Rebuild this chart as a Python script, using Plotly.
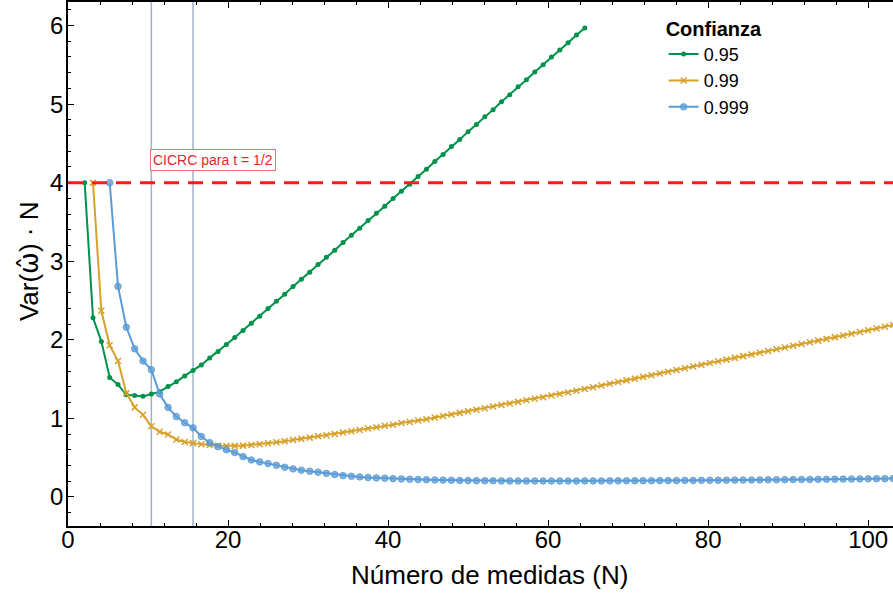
import plotly.graph_objects as go

# Marker index k of each series; plotted position is k * N_SCALE
N_SCALE = 25 / 24

k_095 = list(range(2, 63))
v_095 = [4.0, 2.28, 1.98, 1.52, 1.43, 1.30, 1.29, 1.28, 1.31, 1.34, 1.405, 1.465, 1.54, 1.61, 1.68,
         1.77, 1.85, 1.94, 2.03, 2.12, 2.21, 2.30, 2.40, 2.49, 2.58, 2.68, 2.77, 2.86, 2.96, 3.05,
         3.14, 3.24, 3.33, 3.42, 3.52, 3.61, 3.70, 3.80, 3.89, 3.98, 4.08, 4.17, 4.27, 4.36, 4.46,
         4.55, 4.65, 4.74, 4.84, 4.93, 5.03, 5.12, 5.22, 5.31, 5.41, 5.50, 5.60, 5.69, 5.78, 5.88, 5.97]

k_099 = list(range(3, 101))
v_099 = [4.0, 2.37, 1.93, 1.73, 1.32, 1.14, 1.045, 0.90, 0.83, 0.795, 0.73, 0.70, 0.685, 0.67,
         0.662, 0.653, 0.648, 0.65, 0.653, 0.662, 0.67, 0.684, 0.697, 0.71, 0.726, 0.739, 0.755,
         0.773, 0.786, 0.80, 0.82, 0.837, 0.853, 0.87, 0.888, 0.905, 0.92, 0.94, 0.955, 0.972,
         0.99, 1.01, 1.03, 1.05, 1.07, 1.09, 1.11, 1.13, 1.15, 1.17, 1.19, 1.21, 1.23, 1.25, 1.27,
         1.29, 1.31, 1.33, 1.352, 1.374, 1.396, 1.418, 1.44, 1.462, 1.484, 1.506, 1.528, 1.55,
         1.572, 1.594, 1.616, 1.638, 1.66, 1.682, 1.704, 1.726, 1.748, 1.77, 1.792, 1.814, 1.836,
         1.858, 1.88, 1.902, 1.924, 1.946, 1.968, 1.99, 2.012, 2.034, 2.056, 2.078, 2.10, 2.122,
         2.144, 2.166, 2.188, 2.21]

k_0999 = list(range(5, 101))
v_0999 = [4.0, 2.68, 2.16, 1.885, 1.73, 1.62, 1.31, 1.14, 1.023, 0.945, 0.88, 0.77, 0.69, 0.64,
          0.60, 0.565, 0.513, 0.47, 0.446, 0.425, 0.403, 0.378, 0.357, 0.34, 0.327, 0.315, 0.30,
          0.284, 0.271, 0.263, 0.255, 0.247, 0.242, 0.238, 0.233, 0.229, 0.225, 0.222, 0.219,
          0.216, 0.214, 0.212, 0.21, 0.208, 0.207, 0.206, 0.205, 0.204, 0.204, 0.203, 0.203,
          0.203, 0.203, 0.203, 0.203, 0.203, 0.203, 0.204, 0.204, 0.204, 0.205, 0.205, 0.206,
          0.206, 0.207, 0.207, 0.208, 0.208, 0.209, 0.21, 0.21, 0.211, 0.212, 0.213, 0.213, 0.214,
          0.215, 0.216, 0.217, 0.218, 0.219, 0.22, 0.221, 0.222, 0.223, 0.224, 0.225, 0.226,
          0.227, 0.228, 0.229, 0.23, 0.232, 0.233, 0.234, 0.235]

bound_value = 4.0
vlines_k = [10, 15]
annot_text = "CICRC para t = 1/2"
legend_title = "Confianza"
x_title = "Número de medidas (N)"
y_title = 'Var(<span style="font-family:DejaVu Sans">ω̂</span>) · N'

C_GREEN = "#00924a"
C_ORANGE = "#d7a12a"
C_BLUE = "#5b9bd5"
FONT = "Liberation Sans, Arial, sans-serif"

fig = go.Figure()

fig.add_trace(go.Scatter(
    x=[k * N_SCALE for k in k_095], y=v_095, name="0.95", mode="lines+markers",
    line=dict(color=C_GREEN, width=2),
    marker=dict(symbol="circle", size=5, color=C_GREEN)))
fig.add_trace(go.Scatter(
    x=[k * N_SCALE for k in k_099], y=v_099, name="0.99", mode="lines+markers",
    line=dict(color=C_ORANGE, width=2),
    marker=dict(symbol="x-thin", size=6, color=C_ORANGE, line=dict(color=C_ORANGE, width=1.5))))
fig.add_trace(go.Scatter(
    x=[k * N_SCALE for k in k_0999], y=v_0999, name="0.999", mode="lines+markers",
    line=dict(color=C_BLUE, width=2),
    marker=dict(symbol="circle", size=6.5, color="rgba(91,155,213,0.75)",
                line=dict(color="rgba(91,155,213,0.9)", width=1))))

fig.add_hline(y=bound_value, line=dict(color="#ff1a1a", width=3, dash="15px,9px"), layer="above")
for k in vlines_k:
    fig.add_vline(x=k * N_SCALE, line=dict(color="#9fb2ca", width=1.5), layer="below")

fig.add_annotation(x=18.1, y=4.29, xref="x", yref="y", text=annot_text, showarrow=False,
                   font=dict(family=FONT, size=14, color="#e8262b"),
                   bgcolor="white", bordercolor="#f07070", borderwidth=1, borderpad=2)

# axis titles as annotations for precise placement
fig.add_annotation(x=0.5115, y=-0.093, xref="paper", yref="paper", text=x_title,
                   showarrow=False, xanchor="center", yanchor="middle",
                   font=dict(family=FONT, size=26, color="black"))
fig.add_annotation(x=-0.047, y=0.506, xref="paper", yref="paper", text=y_title,
                   showarrow=False, textangle=-90, xanchor="center", yanchor="middle",
                   font=dict(family=FONT, size=26, color="black"))

fig.update_layout(
    width=893, height=594,
    margin=dict(l=68, r=0, t=2, b=68),
    paper_bgcolor="white", plot_bgcolor="white",
    font=dict(family=FONT, color="black"),
    showlegend=True,
    legend=dict(x=0.722, y=0.985, xanchor="left", yanchor="top",
                title=dict(text="<b>" + legend_title + "</b>", font=dict(size=20)),
                font=dict(size=18), bgcolor="rgba(0,0,0,0)", itemwidth=30),
)
fig.update_xaxes(range=[0, 103.1], dtick=20, tick0=0, showgrid=False, zeroline=False,
                 showline=True, linecolor="black", linewidth=1.5, mirror="ticks",
                 ticks="inside", ticklen=6, tickcolor="black", tickwidth=1,
                 minor=dict(dtick=4, ticks="inside", ticklen=3, tickcolor="black"),
                 tickfont=dict(size=24), ticklabelstandoff=-9)
fig.update_yaxes(range=[-0.37, 6.3], dtick=1, tick0=0, showgrid=False, zeroline=False,
                 showline=True, linecolor="black", linewidth=1.5,
                 ticks="inside", ticklen=6, tickcolor="black", tickwidth=1,
                 minor=dict(dtick=0.2, ticks="inside", ticklen=3, tickcolor="black"),
                 tickfont=dict(size=24), ticklabelstandoff=-2)

fig.write_html("out.html")
